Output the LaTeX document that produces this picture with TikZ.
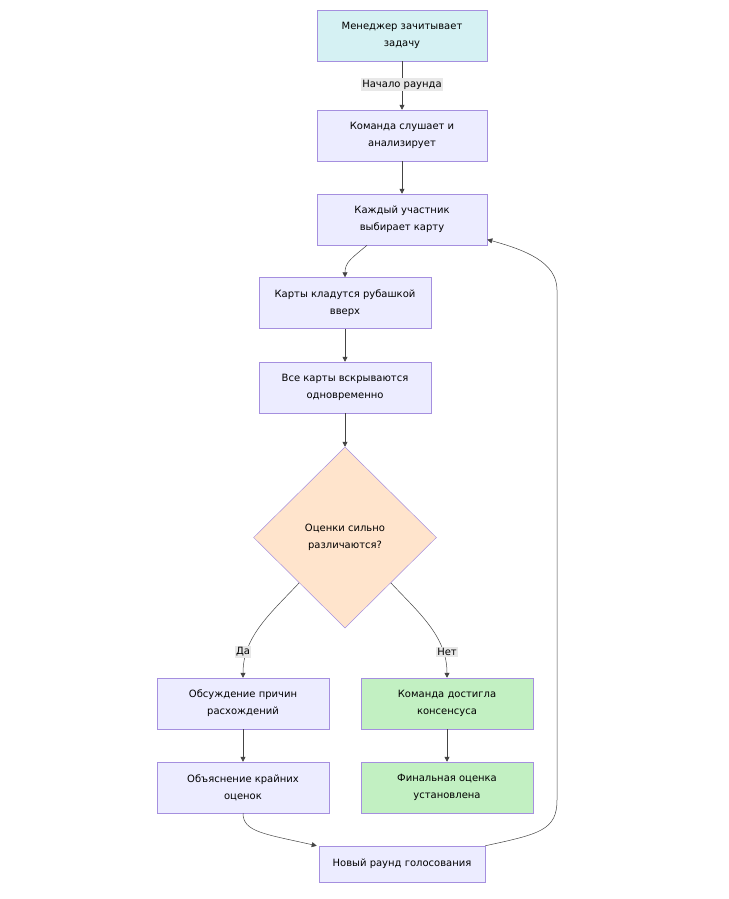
\documentclass[tikz,border=0pt]{standalone}
\usepackage{fontspec}
\setmainfont{DejaVu Sans}
\usetikzlibrary{shapes.geometric,arrows.meta}
\definecolor{lav}{HTML}{ECECFF}
\definecolor{lavborder}{HTML}{A58FDF}
\definecolor{cyanfill}{HTML}{D5F1F3}
\definecolor{peach}{HTML}{FFE4CC}
\definecolor{greenfill}{HTML}{C2F0C2}
\definecolor{edgecol}{HTML}{444444}
\definecolor{lblbg}{HTML}{E8E8E8}
\tikzset{
  box/.style={draw=lavborder, line width=0.5pt, fill=lav, rectangle, minimum width=172pt, minimum height=51pt, align=center, inner sep=0pt, font=\fontsize{10}{17}\selectfont},
  startbox/.style={box, fill=cyanfill},
  okbox/.style={box, fill=greenfill},
  decision/.style={draw=lavborder, line width=0.5pt, fill=peach, diamond, aspect=1, minimum width=183pt, minimum height=181pt, inner sep=0pt, align=center, font=\fontsize{10}{17}\selectfont},
  arr/.style={draw=edgecol, line width=0.5pt, -{Triangle[length=5pt,width=5pt]}},
  lbl/.style={fill=lblbg, inner sep=1.5pt, font=\fontsize{10}{12}\selectfont}
}
\begin{document}
\begin{tikzpicture}[x=1pt,y=-1pt]
\path[use as bounding box] (0,0) rectangle (728,899);
\node[startbox, minimum width=170pt] (A) at (402,35.5) {Менеджер зачитывает\\задачу};
\node[box, minimum width=170pt] (B) at (402,135.5) {Команда слушает и\\анализирует};
\node[box, minimum width=170pt] (C) at (402,219.5) {Каждый участник\\выбирает карту};
\node[box] (D) at (345,303) {Карты кладутся рубашкой\\вверх};
\node[box] (E) at (345,387.5) {Все карты вскрываются\\одновременно};
\node[decision] (F) at (345,537.5) {Оценки сильно\\различаются?};
\node[box] (G) at (243,703.5) {Обсуждение причин\\расхождений};
\node[okbox] (H) at (447,703.5) {Команда достигла\\консенсуса};
\node[box] (I) at (243,787.5) {Объяснение крайних\\оценок};
\node[okbox] (J) at (447,787.5) {Финальная оценка\\установлена};
\node[box, minimum width=166pt, minimum height=36pt] (K) at (402,864) {Новый раунд голосования};

\draw[arr] (A) -- (B) node[lbl, pos=0.48] (la) {Начало раунда};
\draw[arr] (B) -- (C);
\draw[arr] ([xshift=-35pt]C.south) .. controls (352,258) and (345,262) .. (D.north);
\draw[arr] (D) -- (E);
\draw[arr] (E) -- (F);
\draw[arr] (F.south west) .. controls (272,612) and (243,636) .. (G.north);
\node[lbl] (ly) at (243,652) {Да};
\draw[arr] (F.south east) .. controls (418,612) and (447,636) .. (H.north);
\node[lbl] (ln) at (447,652) {Нет};
\draw[arr] (G) -- (I);
\draw[arr] (H) -- (J);
\draw[arr] (I.south) .. controls (243,832) and (265,834) .. ([xshift=-2pt]K.north west);
\draw[arr] (K.north east) .. controls (540,834) and (557,830) .. (557,800) -- (557,290) .. controls (557,262) and (525,250) .. ([yshift=-20pt]C.east);
\end{tikzpicture}
\end{document}
